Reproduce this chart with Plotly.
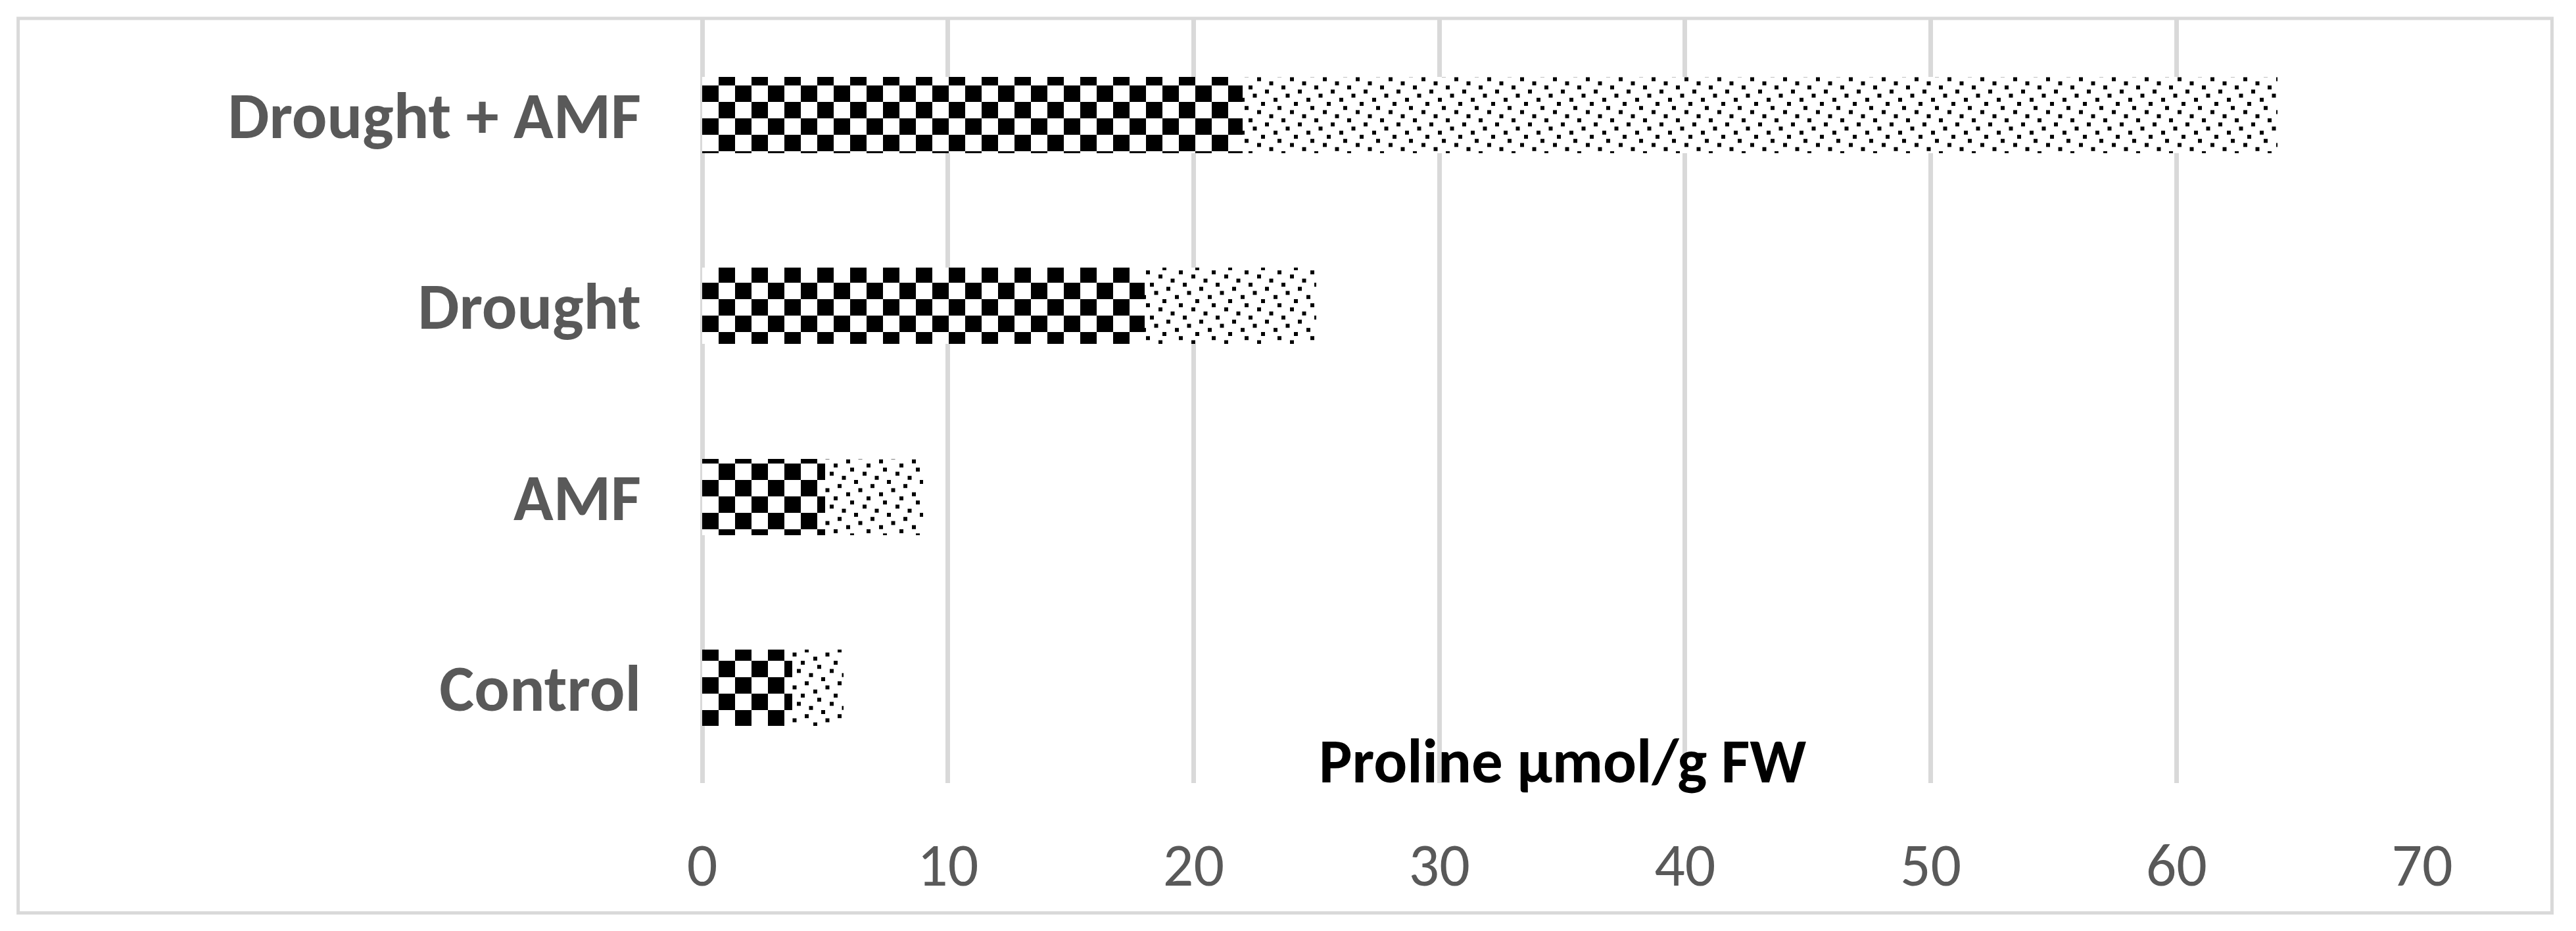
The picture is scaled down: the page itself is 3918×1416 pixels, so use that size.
import plotly.graph_objects as go

# data (bottom to top)
categories = ["Control", "AMF", "Drought", "Drought + AMF"]
series_1 = [3.67, 5.0, 18.0, 22.0]    # checkered part
series_2 = [2.08, 4.0, 7.0, 42.1]     # dotted part
x_ticks = [0, 10, 20, 30, 40, 50, 60, 70]
axis_title = "Proline µmol/g FW"

GRID = "#d9d9d9"
LABEL = "#595959"
FONT = "Carlito, Open Sans, sans-serif"

fig = go.Figure()
fig.add_trace(go.Bar(
    y=categories, x=series_1, orientation="h", name="Series 1",
    marker=dict(color="white", line=dict(width=0),
                pattern=dict(shape="x", fgcolor="black", bgcolor="white", size=36, solidity=0.5)),
))
fig.add_trace(go.Bar(
    y=categories, x=series_2, orientation="h", name="Series 2",
    marker=dict(color="white", line=dict(width=0),
                pattern=dict(shape=".", fgcolor="black", bgcolor="white", size=18, solidity=0.12)),
))

fig.update_layout(
    width=3918, height=1416,
    barmode="stack", bargap=0.6, showlegend=False,
    plot_bgcolor="white", paper_bgcolor="white",
    margin=dict(l=1068, r=234, t=30, b=225, pad=0),
    font=dict(family=FONT, color=LABEL),
    xaxis=dict(
        range=[0, 70], tickvals=x_ticks, showgrid=True, gridcolor=GRID, gridwidth=7,
        zeroline=True, zerolinecolor=GRID, zerolinewidth=7, showline=False, ticks="",
        tickfont=dict(size=92, color=LABEL), ticklabelstandoff=63,
    ),
    yaxis=dict(
        range=[-0.5, 3.5], showgrid=False, zeroline=False, showline=False, ticks="",
        tickfont=dict(size=100, color=LABEL, weight="bold"), ticklabelstandoff=92,
    ),
    annotations=[dict(
        text=axis_title, xref="paper", yref="paper", x=0.5, y=0.028,
        xanchor="center", yanchor="middle", showarrow=False,
        font=dict(size=95, color="black", weight="bold", family=FONT),
    )],
    shapes=[dict(
        type="rect", xref="paper", yref="paper",
        x0=-0.3977, x1=1.0755, y0=-0.1701, y1=1.0017,
        line=dict(color=GRID, width=5), layer="below",
    )],
)

# checkerboard and staggered dot fills, swapped in after the plot is drawn
js = """
document.body.style.margin = '0';
var gd = document.getElementById('{plot_id}');
var ns = 'http://www.w3.org/2000/svg';
function addPattern(id, cells) {
  var p = document.createElementNS(ns, 'pattern');
  p.setAttribute('id', id);
  p.setAttribute('patternUnits', 'userSpaceOnUse');
  p.setAttribute('width', 50);
  p.setAttribute('height', 50);
  var bg = document.createElementNS(ns, 'rect');
  bg.setAttribute('width', 50); bg.setAttribute('height', 50); bg.setAttribute('fill', '#fff');
  p.appendChild(bg);
  cells.forEach(function (c) {
    var r = document.createElementNS(ns, 'rect');
    r.setAttribute('x', c[0]); r.setAttribute('y', c[1]);
    r.setAttribute('width', c[2]); r.setAttribute('height', c[3]);
    r.setAttribute('fill', '#000');
    p.appendChild(r);
  });
  gd.querySelector('defs').appendChild(p);
}
addPattern('checker', [[0, 0, 25, 25], [25, 25, 25, 25]]);
var dx = [31, 6, 37.5, 19, 0, 25, 44, 12.5];
addPattern('dots', dx.map(function (x, i) { return [x, i * 6.25, 6, 6]; }));
var traces = gd.querySelectorAll('.barlayer .trace');
['checker', 'dots'].forEach(function (id, i) {
  if (!traces[i]) return;
  traces[i].querySelectorAll('path').forEach(function (el) { el.style.fill = 'url(#' + id + ')'; });
});
"""

fig.write_html("out.html", post_script=js, config={"displayModeBar": False})
